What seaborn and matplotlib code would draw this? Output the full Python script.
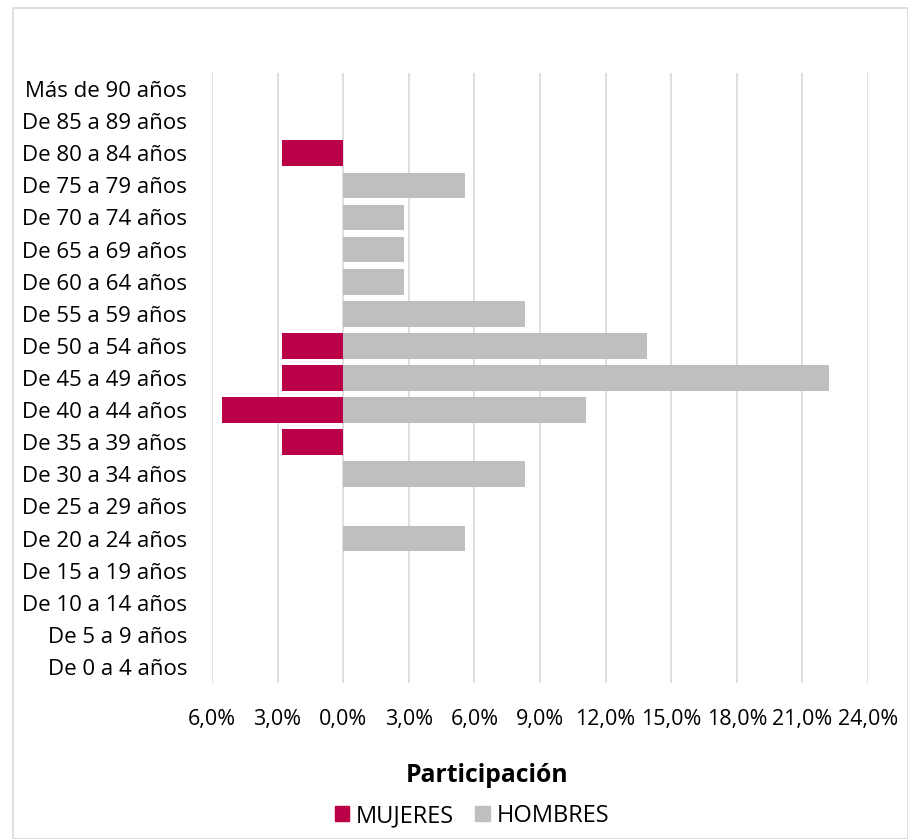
import matplotlib.pyplot as plt
import seaborn as sns
import pandas as pd
from matplotlib.ticker import FuncFormatter, MultipleLocator
from matplotlib.patches import Rectangle, Patch

# grupos de edad (de arriba hacia abajo)
edades = ['Más de 90 años', 'De 85 a 89 años', 'De 80 a 84 años', 'De 75 a 79 años',
          'De 70 a 74 años', 'De 65 a 69 años', 'De 60 a 64 años', 'De 55 a 59 años',
          'De 50 a 54 años', 'De 45 a 49 años', 'De 40 a 44 años', 'De 35 a 39 años',
          'De 30 a 34 años', 'De 25 a 29 años', 'De 20 a 24 años', 'De 15 a 19 años',
          'De 10 a 14 años', 'De 5 a 9 años', 'De 0 a 4 años']

# participación en %
mujeres = [0, 0, 2.78, 0, 0, 0, 0, 0, 2.78, 2.78, 5.56, 2.78, 0, 0, 0, 0, 0, 0, 0]
hombres = [0, 0, 0, 5.56, 2.78, 2.78, 2.78, 8.33, 13.89, 22.22, 11.11, 0, 8.33, 0, 5.56, 0, 0, 0, 0]

colores = {'MUJERES': '#BA0047', 'HOMBRES': '#BFBFBF'}

df = pd.DataFrame({
    'Edad': edades + edades,
    'Valor': [-m for m in mujeres] + hombres,
    'Sexo': ['MUJERES'] * len(edades) + ['HOMBRES'] * len(edades),
})

sns.set_style('white')
plt.rcParams['font.family'] = ['Open Sans', 'DejaVu Sans']
plt.rcParams['text.color'] = 'black'

fig = plt.figure(figsize=(9.08, 8.39), dpi=100)
ax = fig.add_axes([212 / 908, 1 - 683 / 839, (868 - 212) / 908, (683 - 73) / 839])

sns.barplot(data=df, x='Valor', y='Edad', hue='Sexo', palette=colores, dodge=False,
            orient='h', width=0.8, order=edades, legend=False, saturation=1,
            linewidth=0, ax=ax)

ax.set_xlim(-6, 24)
ax.set_ylim(len(edades) - 0.5, -0.5)
ax.xaxis.set_major_locator(MultipleLocator(3))
ax.xaxis.set_major_formatter(FuncFormatter(lambda v, p: f'{abs(v):.1f}%'.replace('.', ',')))
ax.grid(axis='x', color='#D9D9D9', linewidth=1.2)
ax.set_axisbelow(True)
for s in ax.spines.values():
    s.set_visible(False)
ax.tick_params(axis='x', length=0, pad=19, labelsize=15.5, labelcolor='black')
ax.tick_params(axis='y', length=0, pad=18, labelsize=16, labelcolor='black')
ax.set_xlabel('')
ax.set_ylabel('')

fig.text(487 / 908, 1 - 775 / 839, 'Participación', ha='center', va='center',
         fontsize=17.8, fontweight='bold', color='black')

handles = [Patch(color=colores['MUJERES'], label='MUJERES'),
           Patch(color=colores['HOMBRES'], label='HOMBRES')]
fig.legend(handles=handles, loc='center', bbox_to_anchor=(472 / 908, 1 - 816 / 839), ncol=2,
           frameon=False, fontsize=17, handlelength=0.6, handleheight=0.6,
           handletextpad=0.3, columnspacing=0.9, labelcolor='black')

fig.patches.append(Rectangle((13 / 908, 0), 1 - 13 / 908, 1 - 8 / 839,
                             transform=fig.transFigure, fill=False,
                             edgecolor='#D9D9D9', linewidth=1.2))

fig.savefig('out.png', dpi=100)
